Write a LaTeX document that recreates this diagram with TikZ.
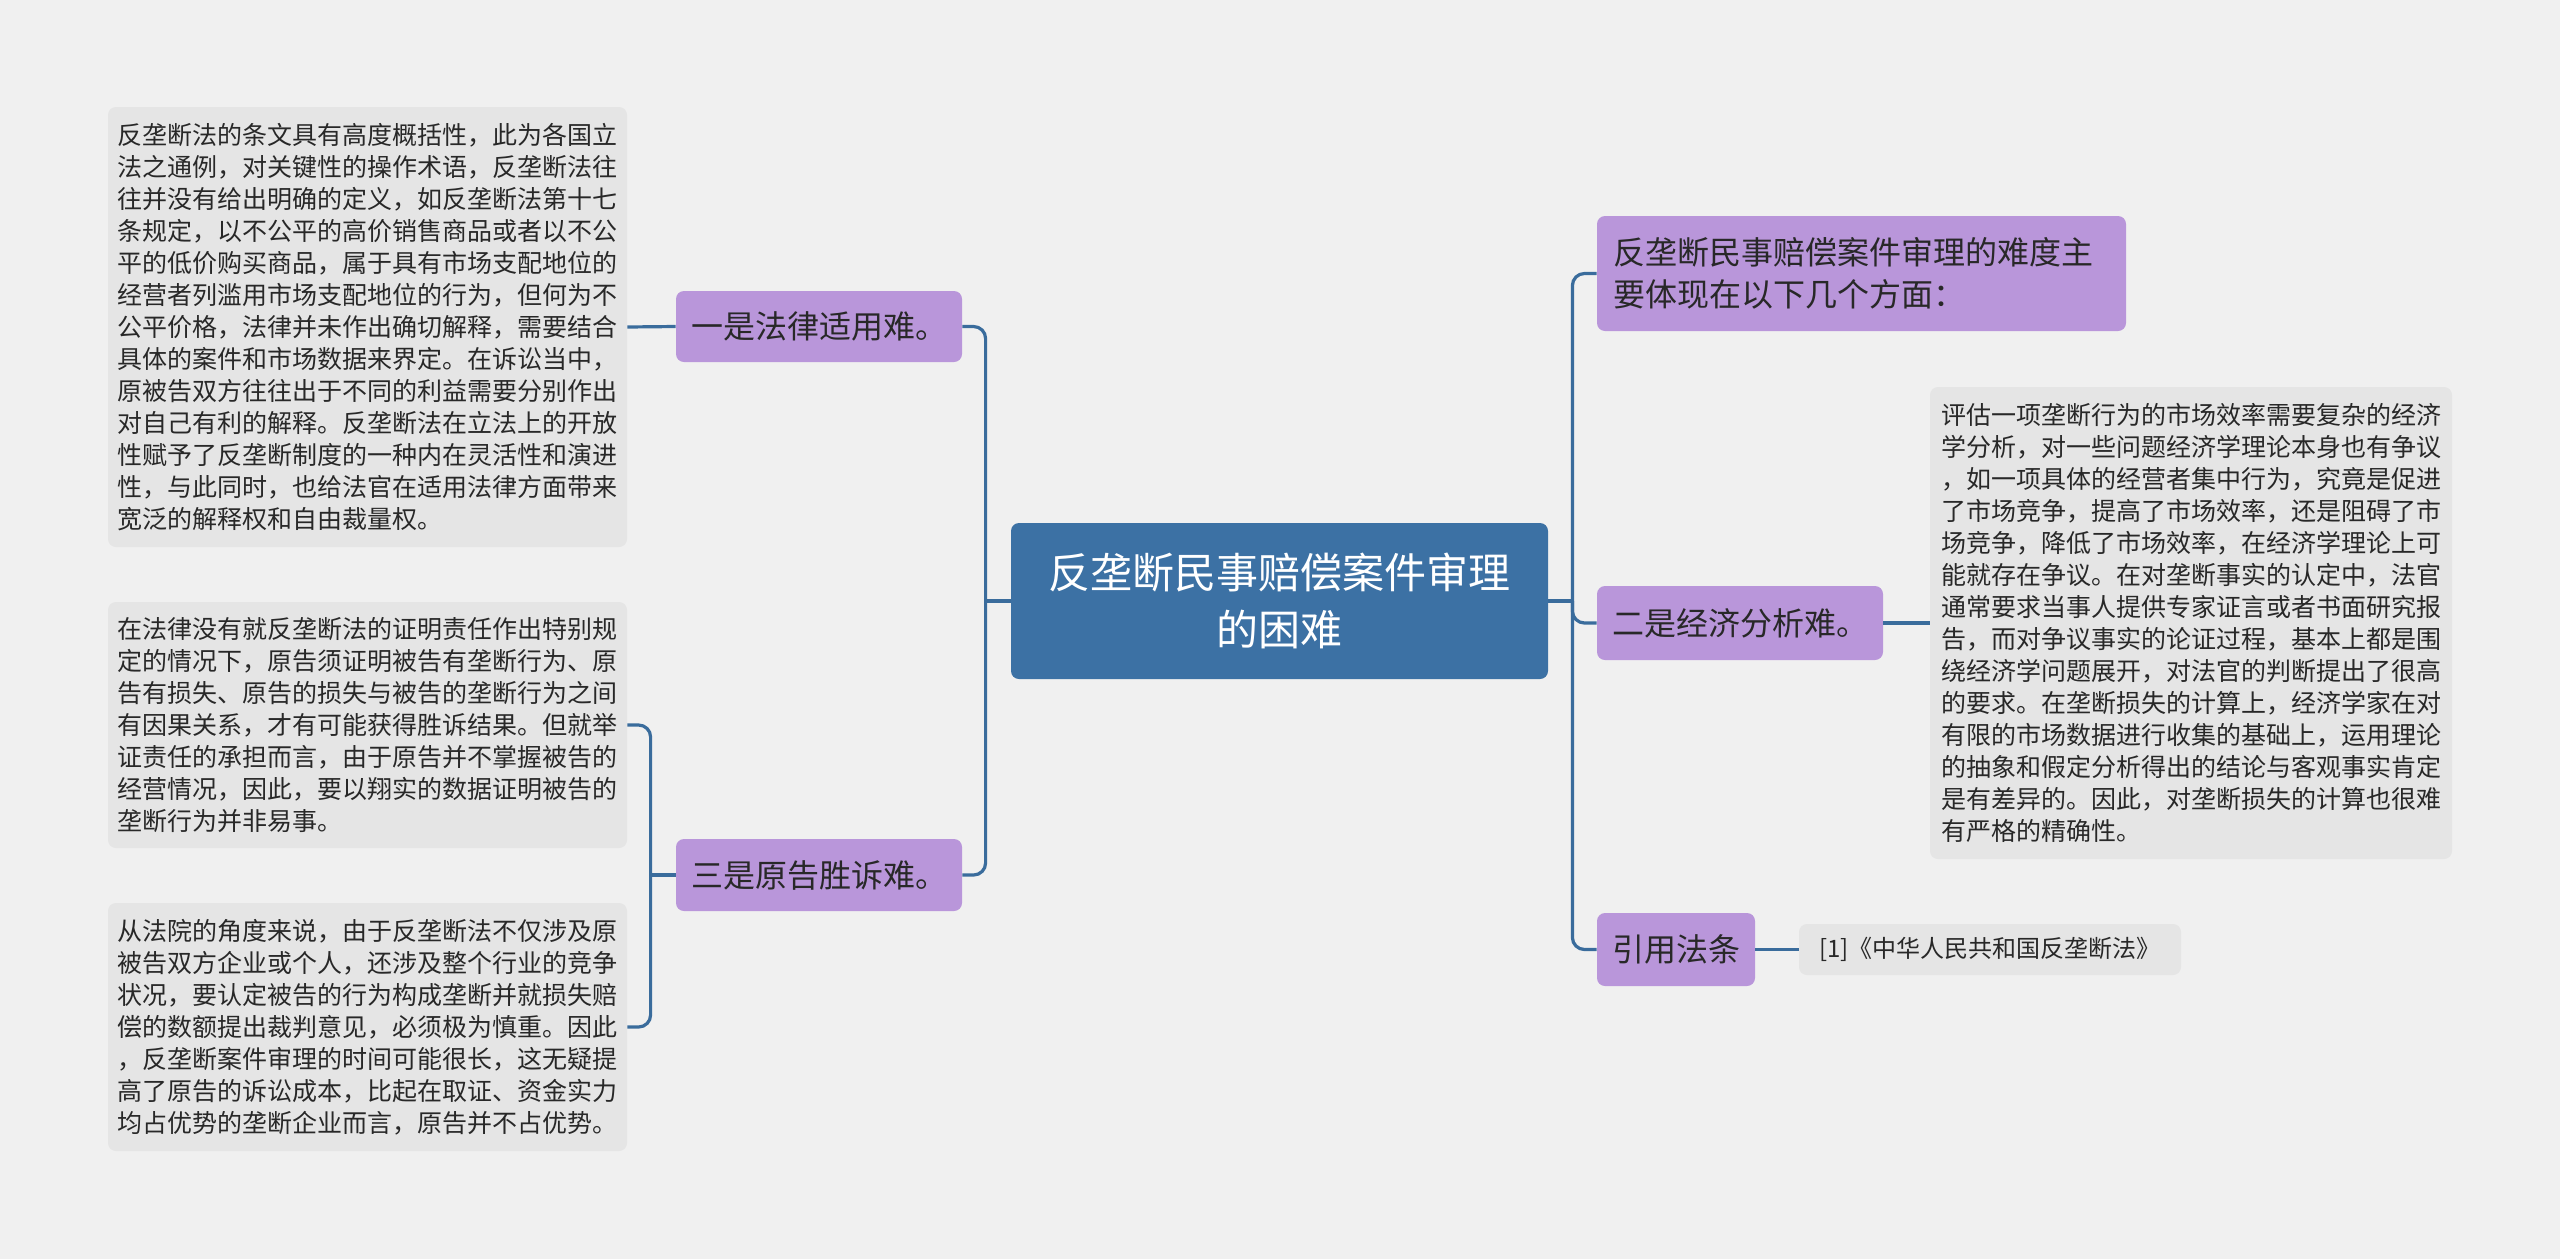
\documentclass[tikz,border=0pt]{standalone}
\usepackage{fontspec}
\newfontfamily\cjk{Noto Sans CJK SC}
\usepackage{tikz}

\definecolor{bgcol}{RGB}{240,240,240}
\definecolor{rootcol}{RGB}{60,113,164}
\definecolor{topiccol}{RGB}{185,150,218}
\definecolor{notecol}{RGB}{229,229,229}
\definecolor{linecol}{RGB}{58,108,156}
\definecolor{txtcol}{RGB}{40,40,40}

\begin{document}
\begin{tikzpicture}[x=0.5pt,y=-0.5pt,
  root/.style={fill=rootcol,text=white,rounded corners=4pt,align=center,
    minimum width=268.5pt,minimum height=78pt,font=\cjk\fontsize{21}{28.5}\selectfont},
  topic/.style={fill=topiccol,text=txtcol,rounded corners=4pt,align=left,
    font=\cjk\fontsize{16}{21}\selectfont},
  note/.style={fill=notecol,text=txtcol,rounded corners=4pt,align=left,
    font=\cjk\fontsize{12.5}{16}\selectfont},
  conn/.style={draw=linecol,line width=1.6pt,rounded corners=6pt}]

\fill[bgcol] (0,0) rectangle (2560,1259);
\useasboundingbox (0,0) rectangle (2560,1259);

% centre
\node[root] (root) at (1279.5,601) {反垄断民事赔偿案件审理\\的困难};

% left side
\node[topic,minimum width=143pt,minimum height=35.5pt] (law) at (819,326.5) {一是法律适用难。};
\node[topic,minimum width=143pt,minimum height=36pt] (win) at (819,875) {三是原告胜诉难。};

\node[note,minimum width=259.5pt,minimum height=220pt] (lawnote) at (367.5,327) {反垄断法的条文具有高度概括性，此为各国立\\
法之通例，对关键性的操作术语，反垄断法往\\
往并没有给出明确的定义，如反垄断法第十七\\
条规定，以不公平的高价销售商品或者以不公\\
平的低价购买商品，属于具有市场支配地位的\\
经营者列滥用市场支配地位的行为，但何为不\\
公平价格，法律并未作出确切解释，需要结合\\
具体的案件和市场数据来界定。在诉讼当中，\\
原被告双方往往出于不同的利益需要分别作出\\
对自己有利的解释。反垄断法在立法上的开放\\
性赋予了反垄断制度的一种内在灵活性和演进\\
性，与此同时，也给法官在适用法律方面带来\\
宽泛的解释权和自由裁量权。};
\node[note,minimum width=259.5pt,minimum height=123pt] (burden) at (367.5,725) {在法律没有就反垄断法的证明责任作出特别规\\
定的情况下，原告须证明被告有垄断行为、原\\
告有损失、原告的损失与被告的垄断行为之间\\
有因果关系，才有可能获得胜诉结果。但就举\\
证责任的承担而言，由于原告并不掌握被告的\\
经营情况，因此，要以翔实的数据证明被告的\\
垄断行为并非易事。};
\node[note,minimum width=259.5pt,minimum height=124pt] (court) at (367.5,1027) {从法院的角度来说，由于反垄断法不仅涉及原\\
被告双方企业或个人，还涉及整个行业的竞争\\
状况，要认定被告的行为构成垄断并就损失赔\\
偿的数额提出裁判意见，必须极为慎重。因此\\
，反垄断案件审理的时间可能很长，这无疑提\\
高了原告的诉讼成本，比起在取证、资金实力\\
均占优势的垄断企业而言，原告并不占优势。};

% right side
\node[topic,text width=248.5pt,inner xsep=8pt,minimum height=57.5pt] (intro) at (1861.5,273.5) {反垄断民事赔偿案件审理的难度主\\要体现在以下几个方面：};
\node[topic,minimum width=143pt,minimum height=37pt] (econ) at (1740,623) {二是经济分析难。};
\node[topic,minimum width=79pt,minimum height=36.5pt] (cite) at (1676,949.5) {引用法条};

\node[note,minimum width=261pt,minimum height=236pt] (econnote) at (2191,623) {评估一项垄断行为的市场效率需要复杂的经济\\
学分析，对一些问题经济学理论本身也有争议\\
，如一项具体的经营者集中行为，究竟是促进\\
了市场竞争，提高了市场效率，还是阻碍了市\\
场竞争，降低了市场效率，在经济学理论上可\\
能就存在争议。在对垄断事实的认定中，法官\\
通常要求当事人提供专家证言或者书面研究报\\
告，而对争议事实的论证过程，基本上都是围\\
绕经济学问题展开，对法官的判断提出了很高\\
的要求。在垄断损失的计算上，经济学家在对\\
有限的市场数据进行收集的基础上，运用理论\\
的抽象和假定分析得出的结论与客观事实肯定\\
是有差异的。因此，对垄断损失的计算也很难\\
有严格的精确性。};
\node[note,font=\cjk\fontsize{12}{16}\selectfont,minimum width=191pt,minimum height=25.5pt] (citenote) at (1990,949.5) {[1]《中华人民共和国反垄断法》};

% connectors
\coordinate (lj) at ([xshift=-12.5pt]root.west);
\draw[conn] (root.west) -- (lj);
\draw[conn] (lj) |- (law.east);
\draw[conn] (lj) |- (win.east);

\coordinate (rj) at ([xshift=12pt]root.east);
\draw[conn] (root.east) -- (rj);
\foreach \n in {intro,econ,cite}
  \draw[conn] (rj) |- (\n.west);

\draw[conn] (law.west) -- (lawnote.east);
\coordinate (wj) at ([xshift=-12.5pt]win.west);
\draw[conn] (win.west) -- (wj);
\draw[conn] (wj) |- (burden.east);
\draw[conn] (wj) |- (court.east);

\draw[conn] (econ.east) -- (econnote.west);
\draw[conn] (cite.east) -- (citenote.west);
\end{tikzpicture}
\end{document}
